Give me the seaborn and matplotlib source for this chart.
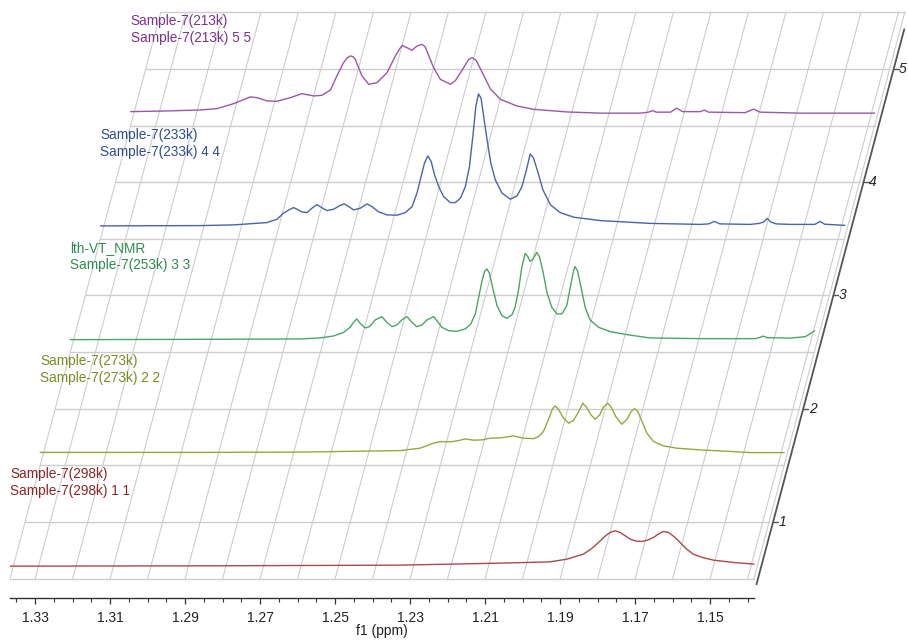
import numpy as np
import pandas as pd
import matplotlib
matplotlib.use("Agg")
import matplotlib.pyplot as plt
import seaborn as sns

# ---------------- data ----------------
levels = [1, 2, 3, 4, 5]
names = ["298k", "273k", "253k", "233k", "213k"]
label_line1 = ["Sample-7(298k)", "Sample-7(273k)", "lth-VT_NMR", "Sample-7(233k)", "Sample-7(213k)"]
label_line2 = ["Sample-7(298k) 1 1", "Sample-7(273k) 2 2", "Sample-7(253k) 3 3",
               "Sample-7(233k) 4 4", "Sample-7(213k) 5 5"]
line_colors = ["#a8494b", "#97a640", "#4aa568", "#4a64aa", "#9a56ad"]
text_colors = ["#8e2424", "#7f8a22", "#2f8c50", "#2d4d90", "#7d3192"]

ppm_298 = [1.3367, 1.2860, 1.2327, 1.2060, 1.1927, 1.1882, 1.1838, 1.1816, 1.1793, 1.1780,
           1.1767, 1.1753, 1.1740, 1.1727, 1.1713, 1.1697, 1.1682, 1.1668, 1.1651, 1.1638,
           1.1625, 1.1611, 1.1596, 1.1580, 1.1564, 1.1545, 1.1519, 1.1491, 1.1438, 1.1383]
int_298 = [0.0, 0.3, 1.0, 3.0, 4.3, 7.0, 12.0, 17.5, 25.3, 30.0,
           33.7, 35.3, 33.7, 30.5, 27.0, 25.0, 24.7, 25.8, 28.7, 32.0,
           34.7, 33.7, 29.5, 23.7, 17.5, 12.0, 8.5, 6.0, 3.7, 2.0]

ppm_273 = [1.3367, 1.2940, 1.2674, 1.2407, 1.2354, 1.2318, 1.2300, 1.2274, 1.2251, 1.2234,
           1.2211, 1.2189, 1.2167, 1.2140, 1.2105, 1.2078, 1.2051, 1.2038, 1.2025, 1.2011,
           1.2002, 1.1994, 1.1985, 1.1971, 1.1958, 1.1945, 1.1931, 1.1920, 1.1911, 1.1898,
           1.1887, 1.1875, 1.1865, 1.1854, 1.1845, 1.1831, 1.1816, 1.1802, 1.1791, 1.1782,
           1.1773, 1.1762, 1.1749, 1.1731, 1.1705, 1.1669, 1.1607, 1.1518, 1.1474, 1.1383]
int_273 = [0.5, 0.5, 0.8, 2.3, 4.7, 9.7, 11.3, 11.0, 12.3, 14.0,
           12.7, 13.0, 14.7, 15.0, 17.0, 14.7, 14.3, 16.3, 21.3, 33.7,
           43.0, 47.0, 43.7, 34.7, 29.7, 32.3, 41.3, 49.7, 46.3, 38.0,
           33.7, 38.0, 45.7, 49.7, 46.3, 35.7, 28.7, 33.7, 41.3, 44.3,
           41.3, 31.3, 19.7, 11.3, 7.0, 4.7, 3.0, 1.3, 0.3, 0.3]

ppm_253 = [1.3367, 1.3021, 1.2754, 1.2701, 1.2665, 1.2638, 1.2621, 1.2612, 1.2603, 1.2594,
           1.2581, 1.2569, 1.2554, 1.2536, 1.2523, 1.2509, 1.2496, 1.2483, 1.2469, 1.2456,
           1.2443, 1.2429, 1.2416, 1.2398, 1.2388, 1.2376, 1.2358, 1.2336, 1.2314, 1.2299,
           1.2287, 1.2278, 1.2269, 1.2262, 1.2256, 1.2249, 1.2241, 1.2229, 1.2216, 1.2203,
           1.2189, 1.2181, 1.2172, 1.2163, 1.2154, 1.2147, 1.2141, 1.2133, 1.2123, 1.2116,
           1.2107, 1.2096, 1.2083, 1.2069, 1.2056, 1.2043, 1.2032, 1.2025, 1.2021, 1.2014,
           1.2005, 1.1994, 1.1981, 1.1958, 1.1927, 1.1883, 1.1821, 1.1687, 1.1541, 1.1530,
           1.1519, 1.1509, 1.1447, 1.1407, 1.1394, 1.1382]
int_253 = [0.0, 0.3, 0.7, 1.7, 3.7, 7.3, 12.3, 17.3, 20.7, 16.3,
           11.7, 13.0, 19.7, 23.0, 17.3, 13.0, 14.7, 19.7, 23.0, 17.3,
           13.0, 14.7, 19.7, 23.0, 18.3, 12.3, 9.0, 8.3, 10.7, 15.7,
           25.7, 42.3, 59.0, 68.3, 70.7, 66.3, 52.3, 34.0, 24.0, 21.3,
           25.0, 32.3, 49.0, 72.3, 86.3, 83.0, 78.3, 80.7, 87.3, 83.0,
           69.0, 47.3, 32.3, 25.7, 25.7, 34.0, 55.7, 69.0, 73.0, 68.3,
           52.3, 32.3, 19.7, 12.3, 8.0, 5.0, 1.7, 1.0, 1.0, 2.0,
           3.5, 2.0, 1.5, 3.0, 6.0, 9.0]

ppm_233 = [1.3367, 1.3101, 1.3012, 1.2923, 1.2896, 1.2879, 1.2861, 1.2852, 1.2843, 1.2830,
           1.2816, 1.2803, 1.2790, 1.2779, 1.2763, 1.2745, 1.2727, 1.2717, 1.2705, 1.2692,
           1.2674, 1.2656, 1.2643, 1.2625, 1.2603, 1.2576, 1.2554, 1.2536, 1.2523, 1.2512,
           1.2503, 1.2494, 1.2485, 1.2476, 1.2465, 1.2452, 1.2434, 1.2421, 1.2407, 1.2394,
           1.2383, 1.2374, 1.2366, 1.2359, 1.2352, 1.2345, 1.2336, 1.2326, 1.2314, 1.2296,
           1.2274, 1.2256, 1.2243, 1.2231, 1.2221, 1.2212, 1.2201, 1.2187, 1.2167, 1.2141,
           1.2105, 1.2034, 1.1901, 1.1767, 1.1745, 1.1730, 1.1715, 1.1634, 1.1610, 1.1598,
           1.1589, 1.1580, 1.1565, 1.1527, 1.1462, 1.1448, 1.1436, 1.1382]
int_233 = [0.5, 0.8, 1.5, 3.8, 7.2, 13.2, 17.2, 18.8, 17.2, 14.5,
           13.8, 18.2, 21.8, 19.2, 15.8, 17.2, 21.2, 22.5, 19.8, 16.5,
           18.2, 22.5, 19.8, 14.5, 11.5, 11.2, 13.8, 19.8, 33.2, 49.8,
           63.2, 70.5, 64.8, 51.5, 39.8, 29.8, 23.8, 23.8, 28.2, 39.8,
           59.8, 89.8, 119.8, 132.5, 128.2, 109.8, 86.5, 63.2, 46.5, 33.2,
           27.2, 30.5, 39.8, 56.5, 72.5, 68.2, 54.8, 36.5, 21.5, 13.8,
           9.2, 5.8, 3.0, 2.0, 2.5, 5.0, 2.5, 2.0, 3.0, 4.5,
           8.0, 4.5, 2.5, 2.0, 2.0, 5.0, 2.2, 1.0]

ppm_213 = [1.3367, 1.3270, 1.3181, 1.3137, 1.3092, 1.3048, 1.3030, 1.3003, 1.2977, 1.2941,
           1.2910, 1.2879, 1.2857, 1.2834, 1.2817, 1.2799, 1.2790, 1.2781, 1.2774, 1.2768,
           1.2750, 1.2732, 1.2710, 1.2683, 1.2661, 1.2650, 1.2643, 1.2630, 1.2617, 1.2603,
           1.2590, 1.2582, 1.2577, 1.2559, 1.2541, 1.2514, 1.2501, 1.2482, 1.2466, 1.2456,
           1.2445, 1.2429, 1.2408, 1.2381, 1.2337, 1.2292, 1.2203, 1.2114, 1.2008, 1.1986,
           1.1975, 1.1965, 1.1927, 1.1911, 1.1895, 1.1848, 1.1837, 1.1826, 1.1728, 1.1706,
           1.1688, 1.1581, 1.1383]
int_213 = [1.5, 2.2, 3.2, 4.5, 9.5, 16.2, 15.5, 12.2, 11.8, 15.5,
           19.5, 17.2, 17.8, 23.2, 37.2, 50.5, 55.0, 57.2, 56.5, 53.8,
           37.2, 28.8, 30.5, 40.5, 57.2, 64.0, 67.8, 65.5, 62.8, 67.2,
           68.8, 66.5, 62.2, 45.5, 33.8, 28.8, 32.5, 43.5, 53.5, 55.5,
           52.5, 40.5, 24.5, 13.8, 7.2, 3.8, 1.2, 0.0, 0.0, 1.0,
           2.5, 1.0, 1.0, 5.0, 1.5, 1.5, 3.0, 1.0, 0.5, 4.0,
           1.0, 0.0, 0.0]

x_major = [1.33, 1.31, 1.29, 1.27, 1.25, 1.23, 1.21, 1.19, 1.17, 1.15]
ppm_left, ppm_right = 1.3367, 1.1383

# ---------------- layout constants ----------------
PX_PER_PPM = 3750.0
PX_PER_LEVEL = 113.25
SHEAR = 0.00804          # ppm shift per level (oblique perspective)
BASE_OFF = 0.39          # baseline sits this far below its level tick
W, H = 908, 641

sns.set_theme(style="white")
plt.rcParams['font.family'] = ['Liberation Sans', 'DejaVu Sans']

fig = plt.figure(figsize=(W / 100, H / 100), dpi=100)
ax_left_px, ax_bottom_px = 10, 598
ax = fig.add_axes([ax_left_px / W, (H - ax_bottom_px) / H, (W - ax_left_px) / W, ax_bottom_px / H])
ax.set_xlim(ppm_left, ppm_left - (W - ax_left_px) / PX_PER_PPM)
z_bottom = 0.5 - (ax_bottom_px - 578.6) / PX_PER_LEVEL
ax.set_ylim(z_bottom, z_bottom + ax_bottom_px / PX_PER_LEVEL)

grid_c = "#cdcdcd"
# horizontal (sheared) grid lines
for z in np.arange(0.5, 5.51, 0.5):
    sh = SHEAR * (z - 0.5)
    ax.plot([ppm_left - sh, ppm_right - sh], [z, z], color=grid_c, lw=1.0, zorder=1)
# oblique grid lines
obl = [ppm_left] + list(np.round(np.arange(1.33, 1.1395, -0.01), 3)) + [ppm_right]
for p in obl:
    ax.plot([p, p - SHEAR * 5], [0.5, 5.5], color=grid_c, lw=0.8, zorder=1)

# spectra
ppms = [ppm_298, ppm_273, ppm_253, ppm_233, ppm_213]
ints = [int_298, int_273, int_253, int_233, int_213]
frames = []
for lev, nm, pp, ii in zip(levels, names, ppms, ints):
    pp = np.asarray(pp)
    ii = np.asarray(ii)
    frames.append(pd.DataFrame({
        "x": pp - SHEAR * (lev - 1),
        "y": (lev - BASE_OFF) + ii / PX_PER_LEVEL,
        "spectrum": nm,
    }))
df = pd.concat(frames, ignore_index=True)
sns.lineplot(data=df, x="x", y="y", hue="spectrum", hue_order=names,
             palette=line_colors, estimator=None, sort=False, legend=False,
             lw=1.0, ax=ax, zorder=3)

# labels
for lev, l1, l2, tc in zip(levels, label_line1, label_line2, text_colors):
    xx = ppm_left - SHEAR * (lev - 1)
    ax.text(xx, lev + 0.42, l1, color=tc, fontsize=9.8, ha="left", va="center", zorder=4)
    ax.text(xx, lev + 0.27, l2, color=tc, fontsize=9.8, ha="left", va="center", zorder=4)

# right (oblique) level axis
ax_c = "#555555"
off = 4 / PX_PER_PPM
za, zb = 0.45, 5.35
ax.plot([ppm_right - SHEAR * (za - 0.5) - off, ppm_right - SHEAR * (zb - 0.5) - off],
        [za, zb], color=ax_c, lw=1.3, zorder=2)
for lev in levels:
    x0 = ppm_right - SHEAR * (lev - 0.5) - off
    ax.plot([x0, x0 - 5 / PX_PER_PPM], [lev, lev], color=ax_c, lw=1.0, zorder=2)
    ax.text(x0 - 5.5 / PX_PER_PPM, lev, str(lev), fontsize=10, style="italic",
            color="#222222", ha="left", va="center")

# bottom ppm axis
for side in ["left", "right", "top"]:
    ax.spines[side].set_visible(False)
ax.spines["bottom"].set_bounds(ppm_right, ppm_left)
ax.spines["bottom"].set_color("#333333")
ax.spines["bottom"].set_linewidth(1.0)
ax.set_xticks(x_major)
ax.set_xticklabels([f"{v:.2f}" for v in x_major])
ax.set_xticks(np.round(np.arange(1.335, 1.1395, -0.005), 3), minor=True)
ax.tick_params(axis="x", which="major", direction="out", length=4, width=0.9,
               color="#333333", labelsize=10, labelcolor="#222222", pad=5, bottom=True)
ax.tick_params(axis="x", which="minor", direction="out", length=3, width=0.8,
               color="#333333", bottom=True)
ax.set_yticks([])
ax.set_ylabel("")
ax.set_xlabel("f1 (ppm)", fontsize=10, color="#222222")
ax.xaxis.set_label_coords((382 - ax_left_px) / (W - ax_left_px), -0.043)
ax.xaxis.label.set_va("top")
ax.grid(False)
ax.set_facecolor("white")

fig.savefig("out.png", dpi=100, facecolor="white")
